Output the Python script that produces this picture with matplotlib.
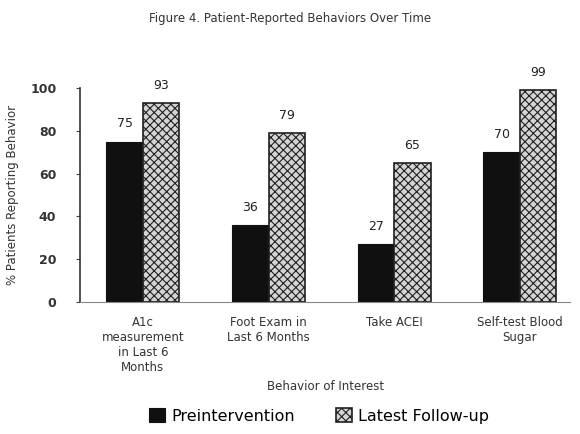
import matplotlib
matplotlib.use("Agg")
import matplotlib.pyplot as plt
import numpy as np

categories = ["A1c\nmeasurement\nin Last 6\nMonths", "Foot Exam in\nLast 6 Months", "Take ACEI", "Self-test Blood\nSugar"]
pre = [75, 36, 27, 70]
follow = [93, 79, 65, 99]
series_names = ["Preintervention", "Latest Follow-up"]
yticks = [0, 20, 40, 60, 80, 100]

plt.rcParams['font.family'] = ['DejaVu Sans']
plt.rcParams['hatch.color'] = '#6a6a6a'
plt.rcParams['hatch.linewidth'] = 0.8

fig = plt.figure(figsize=(5.8, 4.34), dpi=100)
ax = fig.add_axes([0.138, 0.304, 0.845, 0.493])

x = np.arange(len(categories))
w = 0.29
b1 = ax.bar(x - w/2, pre, w, color='#101010', edgecolor='#101010', linewidth=0.8, label=series_names[0])
b2 = ax.bar(x + w/2, follow, w, color='#d4d4d4', edgecolor='#202020', linewidth=1.2, hatch='xxxx', label=series_names[1])

for rect, v in zip(b1, pre):
    ax.annotate(str(v), (rect.get_x() + rect.get_width()/2, v), xytext=(0, 8), textcoords='offset points',
                ha='center', va='bottom', fontsize=9, color='#222222', annotation_clip=False)
for rect, v in zip(b2, follow):
    ax.annotate(str(v), (rect.get_x() + rect.get_width()/2, v), xytext=(0, 8), textcoords='offset points',
                ha='center', va='bottom', fontsize=9, color='#222222', annotation_clip=False)

ax.set_xlim(-0.5, 3.4)
ax.set_ylim(0, 100)
ax.set_yticks(yticks)
ax.set_yticklabels([str(t) for t in yticks], fontsize=9, fontweight='bold', color='#333333')
ax.set_xticks(x)
ax.set_xticklabels(categories, fontsize=8.5, color='#333333', linespacing=1.2)
ax.tick_params(axis='x', length=0, pad=10)
ax.tick_params(axis='y', length=3, direction='out', pad=14, color='#444444')
for s in ['top', 'right']:
    ax.spines[s].set_visible(False)
ax.spines['left'].set_color('#333333')
ax.spines['left'].set_linewidth(1.2)
ax.spines['bottom'].set_color('#888888')
ax.spines['bottom'].set_linestyle((0, (2, 1)))

ax.set_ylabel("% Patients Reporting Behavior", fontsize=8.5, color='#333333', labelpad=8)
ax.set_xlabel("Behavior of Interest", fontsize=8.5, color='#333333', labelpad=4)

fig.text(0.5, 0.958, "Figure 4. Patient-Reported Behaviors Over Time", ha='center', va='center', fontsize=8.5, color='#333333')

leg = fig.legend(handles=[b1, b2], labels=series_names, loc='center', bbox_to_anchor=(0.55, 0.042), ncol=2,
                 frameon=False, fontsize=11.5, handlelength=1.0, handleheight=1.0, columnspacing=2.6, handletextpad=0.4)

fig.savefig("out.png", dpi=100)
